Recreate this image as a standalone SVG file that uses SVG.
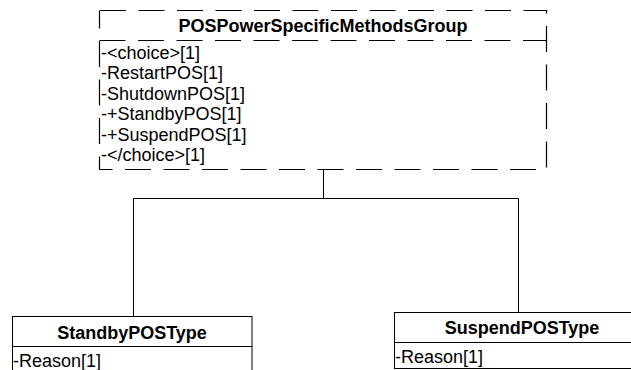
<svg xmlns="http://www.w3.org/2000/svg" width="631" height="370" viewBox="0 0 631 370">
<style>
text{font-family:"Liberation Sans",Arial,sans-serif;font-size:18px;fill:#000}
.t{font-weight:bold;text-anchor:middle}
.box{fill:#fff;stroke:#000;stroke-width:1}
.dash{fill:none;stroke:#000;stroke-width:1.2;stroke-dasharray:26 12.5}
.ln{fill:none;stroke:#000;stroke-width:1}
</style>
<rect width="631" height="370" fill="#fff"/>
<g id="connectors">
<path class="ln" d="M323.5,169.5V198.5M133.5,198.5H518.5M133.5,198.5V316.5M518.5,198.5V312.5"/>
</g>
<g id="POSPowerSpecificMethodsGroup">
<path class="dash" d="M100,10.5H546.5V169.5H99.5V10.5"/>
<path class="dash" d="M99.5,40.5H546.5"/>
<text class="t" x="323" y="31.5">POSPowerSpecificMethodsGroup</text>
<text x="101" y="58.5">-&lt;choice&gt;[1]</text>
<text x="101" y="79">-RestartPOS[1]</text>
<text x="101" y="99.5">-ShutdownPOS[1]</text>
<text x="101" y="120">-+StandbyPOS[1]</text>
<text x="101" y="140.5">-+SuspendPOS[1]</text>
<text x="101" y="161">-&lt;/choice&gt;[1]</text>
</g>
<g id="StandbyPOSType">
<rect class="box" x="12.5" y="316.5" width="239.5" height="70"/>
<line class="ln" x1="12.5" y1="346.5" x2="252" y2="346.5"/>
<text class="t" x="132" y="338.5">StandbyPOSType</text>
<text x="13" y="366.5">-Reason[1]</text>
</g>
<g id="SuspendPOSType">
<rect class="box" x="394.5" y="312.5" width="256" height="56"/>
<line class="ln" x1="394.5" y1="342.5" x2="650" y2="342.5"/>
<text class="t" x="522" y="333.5">SuspendPOSType</text>
<text x="395" y="362.5">-Reason[1]</text>
</g>
</svg>
